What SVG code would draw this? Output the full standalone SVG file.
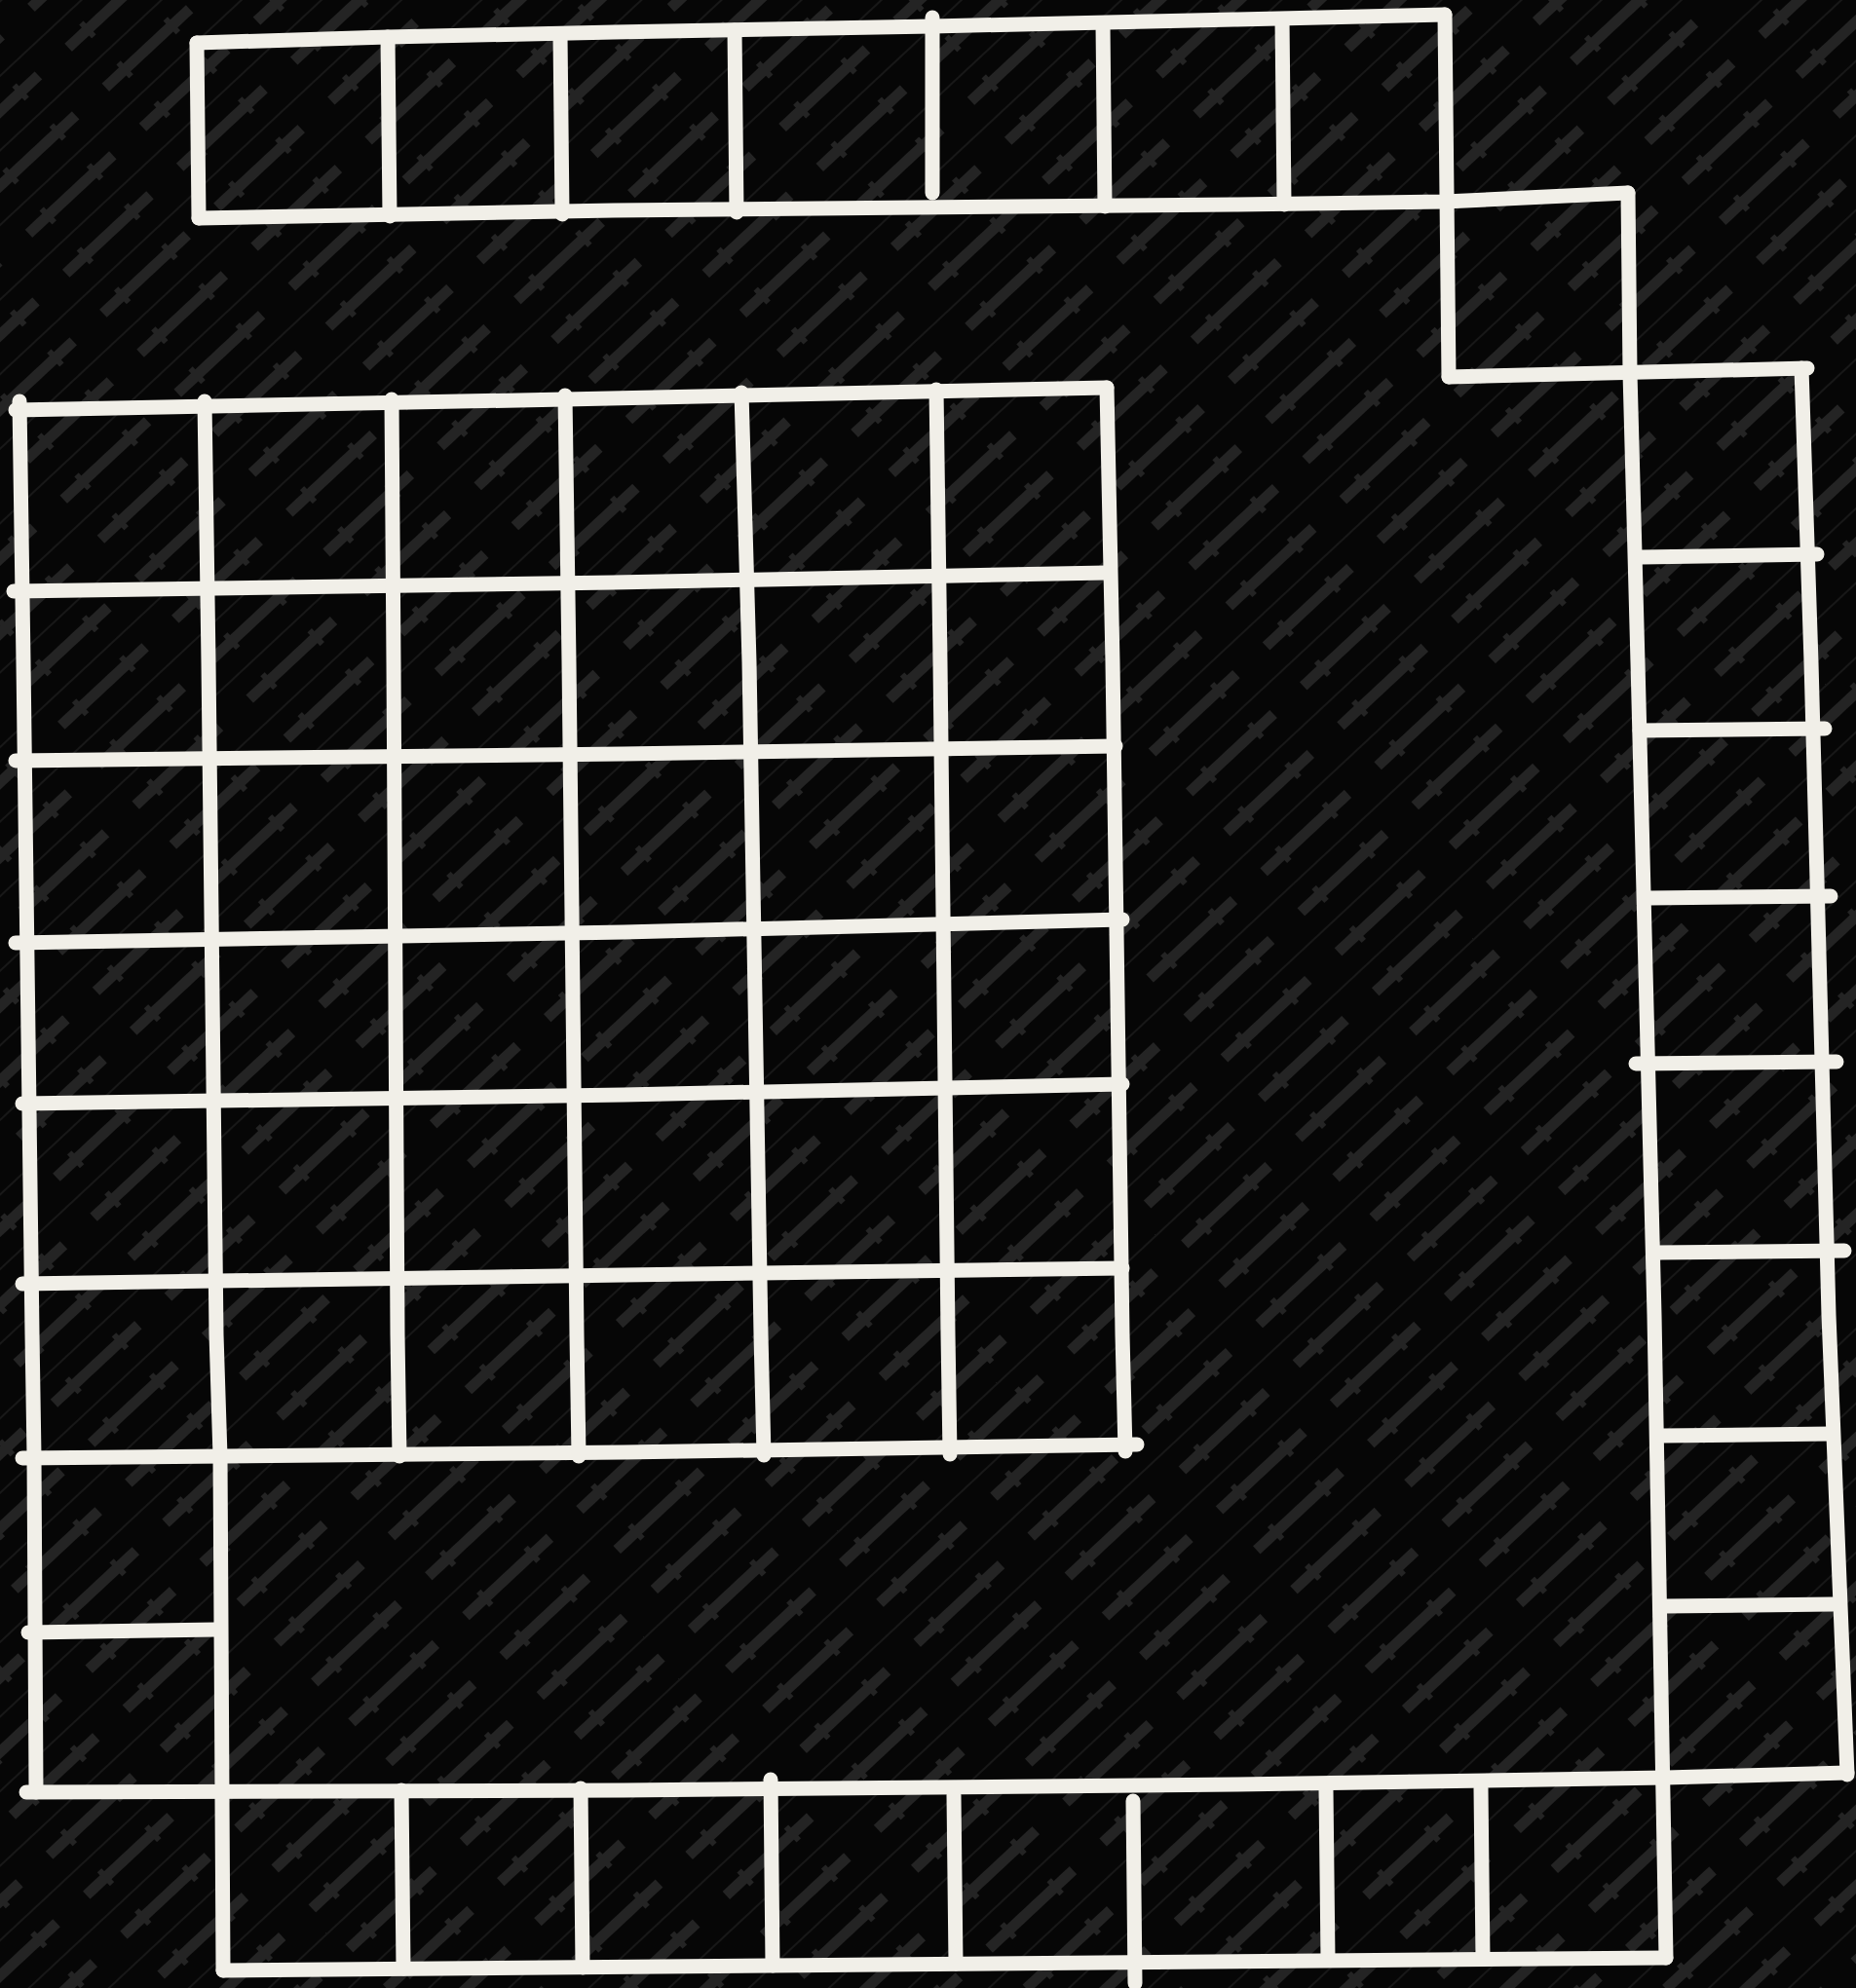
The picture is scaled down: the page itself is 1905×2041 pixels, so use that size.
<svg xmlns="http://www.w3.org/2000/svg" width="1905" height="2041" viewBox="0 0 1905 2041">
<style>
.ln{fill:none;stroke:#f1efe8;stroke-width:15;stroke-linecap:round;stroke-linejoin:round}
</style>
<defs>
<pattern id="wm" width="160" height="56" patternUnits="userSpaceOnUse" patternTransform="rotate(-43)">
<line x1="0" y1="1" x2="160" y2="1" stroke="#1d1d1d" stroke-width="1.5"/>
<rect x="18" y="22" width="118" height="11" fill="#242424"/>
<rect x="42" y="18" width="6" height="19" fill="#242424"/>
<rect x="108" y="18" width="6" height="19" fill="#242424"/>
</pattern>
</defs>
<rect x="0" y="0" width="1905" height="2041" fill="#060606"/>
<rect x="0" y="0" width="1905" height="2041" fill="url(#wm)"/>

<g id="top-row">
<polyline class="ln" points="202,44 398,38 630,33 957,27 1267,20 1483,15"/>
<polyline class="ln" points="204,224 630,216 1267,210 1483,207 1671,198"/>
<line class="ln" x1="202" y1="44" x2="204" y2="224"/>
<line class="ln" x1="398" y1="38" x2="400" y2="222"/>
<line class="ln" x1="575" y1="36" x2="577" y2="220"/>
<line class="ln" x1="754" y1="31" x2="756" y2="218"/>
<line class="ln" x1="957" y1="18" x2="957" y2="198"/>
<line class="ln" x1="1132" y1="25" x2="1134" y2="212"/>
<line class="ln" x1="1316" y1="20" x2="1318" y2="210"/>
<line class="ln" x1="1483" y1="15" x2="1487" y2="387"/>
</g>

<g id="step-and-right-column">
<line class="ln" x1="1487" y1="387" x2="1855" y2="378"/>
<polyline class="ln" points="1671,198 1673,383 1681,680 1698,1350 1710,2010"/>
<polyline class="ln" points="1849,378 1859,680 1877,1350 1896,1822"/>
<line class="ln" x1="1685" y1="572" x2="1865" y2="569"/>
<line class="ln" x1="1683" y1="750" x2="1873" y2="748"/>
<line class="ln" x1="1692" y1="922" x2="1879" y2="920"/>
<line class="ln" x1="1679" y1="1092" x2="1885" y2="1090"/>
<line class="ln" x1="1700" y1="1286" x2="1893" y2="1284"/>
<line class="ln" x1="1706" y1="1474" x2="1880" y2="1472"/>
<line class="ln" x1="1708" y1="1649" x2="1881" y2="1647"/>
</g>

<g id="big-grid">
<polyline class="ln" points="16,421 580,410 1136,398"/>
<polyline class="ln" points="14,607 630,598 1136,588"/>
<polyline class="ln" points="16,781 640,774 1145,766"/>
<polyline class="ln" points="16,968 640,957 1152,944"/>
<polyline class="ln" points="23,1133 640,1124 1152,1113"/>
<polyline class="ln" points="23,1318 640,1309 1152,1302"/>
<polyline class="ln" points="23,1497 640,1491 1167,1483"/>
<polyline class="ln" points="20,412 24,680 33,1370 35,1495 37,1840"/>
<polyline class="ln" points="210,412 214,680 222,1370 226,1495 229,2023"/>
<polyline class="ln" points="402,410 404,680 408,1370 410,1495"/>
<polyline class="ln" points="580,406 584,680 592,1370 594,1495"/>
<polyline class="ln" points="761,403 769,680 781,1370 784,1494"/>
<polyline class="ln" points="961,400 965,680 973,1370 975,1493"/>
<polyline class="ln" points="1136,398 1142,680 1152,1370 1155,1490"/>
</g>

<g id="left-column">
<line class="ln" x1="29" y1="1676" x2="222" y2="1673"/>
</g>

<g id="bottom-row">
<polyline class="ln" points="27,1840 640,1838 1270,1832 1710,1825 1896,1820"/>
<polyline class="ln" points="229,2023 791,2018 1710,2010"/>
<line class="ln" x1="412" y1="1838" x2="414" y2="2021"/>
<line class="ln" x1="596" y1="1836" x2="598" y2="2020"/>
<line class="ln" x1="791" y1="1827" x2="793" y2="2018"/>
<line class="ln" x1="979" y1="1843" x2="981" y2="2016"/>
<line class="ln" x1="1163" y1="1849" x2="1165" y2="2036"/>
<line class="ln" x1="1361" y1="1838" x2="1363" y2="2012"/>
<line class="ln" x1="1520" y1="1836" x2="1522" y2="2011"/>
</g>
</svg>
